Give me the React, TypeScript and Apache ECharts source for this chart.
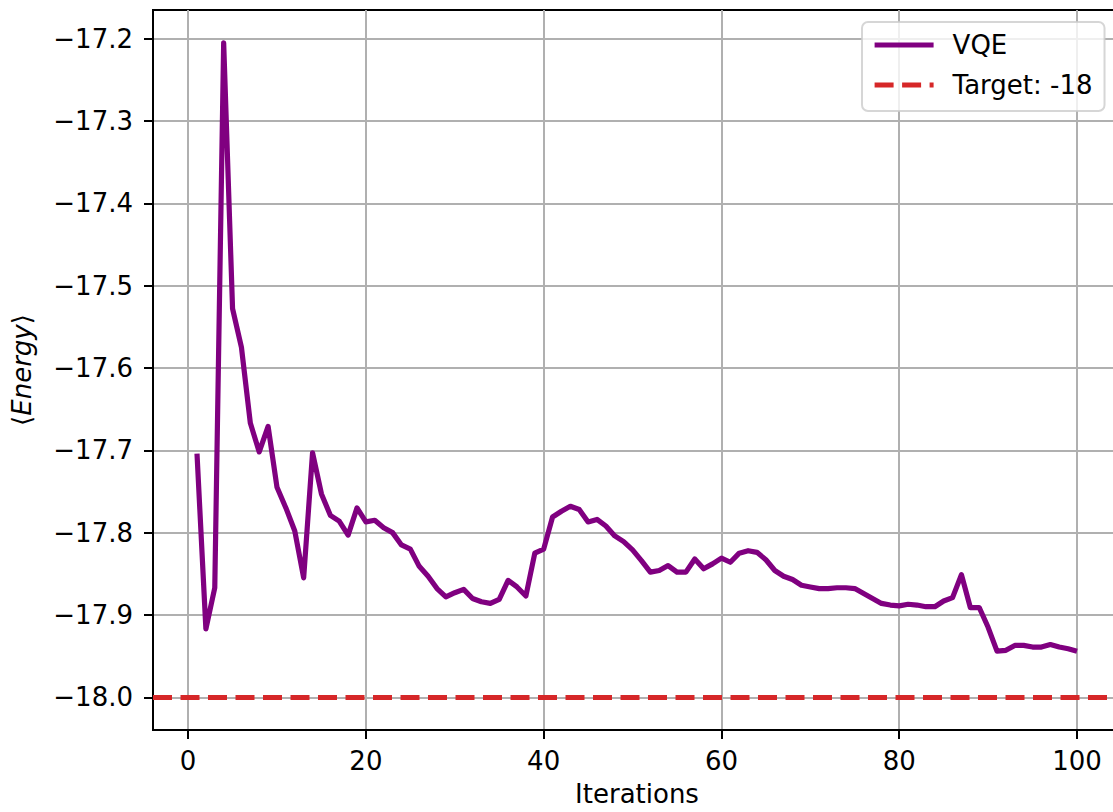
import React, { useEffect, useRef } from "react";
import * as echarts from "echarts";

const ENERGY: number[] = [
  -17.704, -17.917, -17.867, -17.205, -17.528, -17.575, -17.667, -17.702, -17.671, -17.745,
  -17.770, -17.798, -17.855, -17.703, -17.753, -17.779, -17.786, -17.803, -17.770, -17.787,
  -17.785, -17.794, -17.800, -17.815, -17.820, -17.841, -17.853, -17.868, -17.878, -17.873,
  -17.869, -17.880, -17.884, -17.886, -17.881, -17.858, -17.866, -17.877, -17.825, -17.820,
  -17.781, -17.774, -17.768, -17.772, -17.787, -17.784, -17.792, -17.804, -17.811, -17.821,
  -17.834, -17.848, -17.846, -17.840, -17.848, -17.848, -17.832, -17.844, -17.838, -17.831,
  -17.836, -17.825, -17.822, -17.824, -17.833, -17.846, -17.853, -17.857, -17.864, -17.866,
  -17.868, -17.868, -17.867, -17.867, -17.868, -17.874, -17.880, -17.886, -17.888, -17.889,
  -17.887, -17.888, -17.890, -17.890, -17.883, -17.879, -17.851, -17.891, -17.891, -17.915,
  -17.944, -17.943, -17.937, -17.937, -17.939, -17.939, -17.936, -17.939, -17.941, -17.944,
];
const ITERATIONS: number[] = ENERGY.map((_, i) => i + 1);
const TARGET = -18;
const X_TICKS: number[] = [0, 20, 40, 60, 80, 100];
const Y_TICKS: number[] = [-18.0, -17.9, -17.8, -17.7, -17.6, -17.5, -17.4, -17.3, -17.2];
const SERIES_NAME = "VQE";
const TARGET_NAME = "Target: -18";
const X_LABEL = "Iterations";

const FONT = "DejaVu Sans";
const FS = 26;

export default function App() {
  const ref = useRef<HTMLDivElement>(null);
  useEffect(() => {
    document.body.style.margin = "0";
    document.body.style.overflow = "hidden";
    if (!ref.current) return;
    const chart = echarts.init(ref.current, null, { renderer: "svg" });

    const xMinData = Math.min(...ITERATIONS);
    const xMaxData = Math.max(...ITERATIONS);
    const xPad = (xMaxData - xMinData) * 0.05;
    const yMinData = Math.min(...ENERGY, TARGET);
    const yMaxData = Math.max(...ENERGY, TARGET);
    const yPad = (yMaxData - yMinData) * 0.05;

    const axisLine = { show: true, onZero: false, lineStyle: { color: "#000", width: 2 } };
    const axisTickBase = { show: true, length: 9, lineStyle: { color: "#000", width: 2 } };
    const splitLine = { show: true, lineStyle: { color: "#b0b0b0", width: 2 } };
    const dash = [19, 8.5];

    chart.setOption({
      animation: false,
      backgroundColor: "#fff",
      grid: {
        left: 153,
        top: 10,
        width: 968,
        height: 722,
        containLabel: false,
        show: true,
        borderColor: "#000",
        borderWidth: 2,
        backgroundColor: "transparent",
      },
      legend: {
        left: 862,
        top: 22,
        orient: "vertical",
        data: [SERIES_NAME, TARGET_NAME],
        itemWidth: 59,
        itemHeight: 14,
        itemGap: 14,
        padding: [10, 12, 13, 10],
        backgroundColor: "rgba(255,255,255,0.8)",
        borderColor: "rgba(204,204,204,0.8)",
        borderWidth: 2,
        borderRadius: 6,
        itemStyle: { opacity: 0 },
        lineStyle: { width: 5.2 },
        textStyle: { fontFamily: FONT, fontSize: FS, color: "#000", padding: [0, 0, 0, 14] },
      },
      xAxis: {
        type: "value",
        min: xMinData - xPad,
        max: xMaxData + xPad,
        name: X_LABEL,
        nameLocation: "middle",
        nameGap: 51,
        nameTextStyle: { fontFamily: FONT, fontSize: FS, color: "#000" },
        axisLine,
        axisTick: { ...axisTickBase, customValues: X_TICKS },
        axisLabel: {
          fontFamily: FONT,
          fontSize: FS,
          color: "#000",
          margin: 18,
          customValues: X_TICKS,
          formatter: (v: number) => String(Math.round(v)),
        },
        splitLine,
      },
      yAxis: {
        type: "value",
        min: yMinData - yPad,
        max: yMaxData + yPad,
        name: "{b|⟨}{i|Energy}{b|⟩}",
        nameLocation: "middle",
        nameGap: 118,
        nameTextStyle: {
          fontFamily: FONT,
          fontSize: FS,
          color: "#000",
          rich: {
            b: { fontFamily: FONT, fontSize: FS, color: "#000" },
            i: { fontFamily: FONT, fontSize: FS, color: "#000", fontStyle: "italic" },
          },
        },
        axisLine,
        axisTick: { ...axisTickBase, customValues: Y_TICKS },
        axisLabel: {
          fontFamily: FONT,
          fontSize: FS,
          color: "#000",
          margin: 20,
          customValues: Y_TICKS,
          formatter: (v: number) => v.toFixed(1).replace("-", "\u2212"),
        },
        splitLine,
      },
      series: [
        {
          name: SERIES_NAME,
          type: "line",
          data: ITERATIONS.map((it, i) => [it, ENERGY[i]]),
          symbol: "none",
          lineStyle: { color: "#800080", width: 5.2, join: "round" },
          itemStyle: { color: "#800080" },
          z: 3,
        },
        {
          name: TARGET_NAME,
          type: "line",
          data: [],
          symbol: "none",
          lineStyle: { color: "#d62728", width: 5.2, type: dash },
          itemStyle: { color: "#d62728" },
          markLine: {
            silent: true,
            symbol: "none",
            label: { show: false },
            lineStyle: { color: "#d62728", width: 5.2, type: dash },
            data: [{ yAxis: TARGET }],
          },
          z: 2,
        },
      ],
    });
    return () => chart.dispose();
  }, []);
  return <div ref={ref} style={{ width: 1130, height: 812 }} />;
}
